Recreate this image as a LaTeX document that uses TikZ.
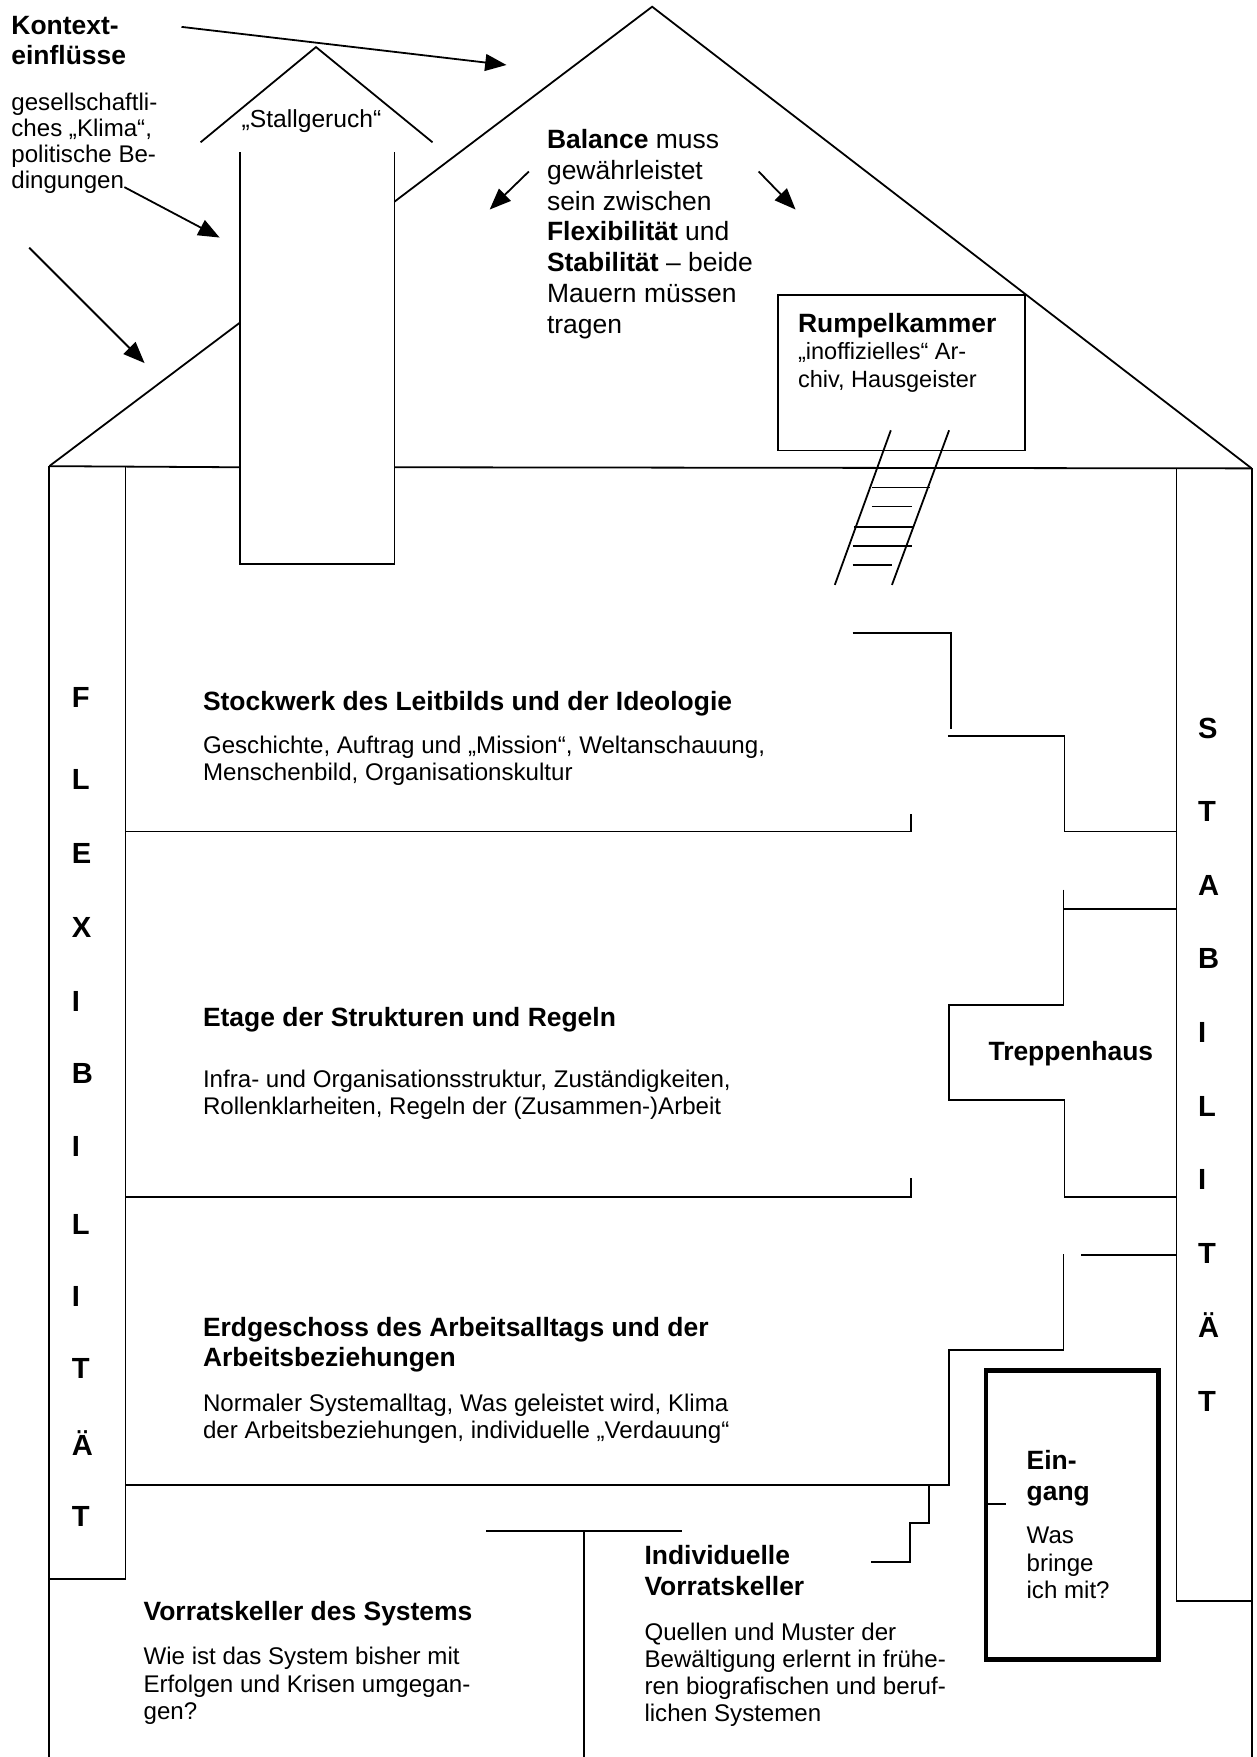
\documentclass[tikz,border=0pt]{standalone}
\usepackage{fontspec}
\setmainfont{Liberation Sans}
\usetikzlibrary{arrows.meta}
\begin{document}
\begin{tikzpicture}[x=1pt,y=-1pt,
  wall/.style={line width=1.6pt, line join=miter},
  boldbox/.style={line width=4pt},
  arr/.style={line width=1.6pt,-{Triangle[length=19pt,width=15pt]}},
  body/.style={inner sep=0pt, anchor=base west, align=left, font=\fontsize{21.5}{24}\selectfont},
  head/.style={inner sep=0pt, anchor=base west, align=left, font=\bfseries\fontsize{23.6}{27}\selectfont},
  pil/.style={inner sep=0pt, anchor=base west, font=\bfseries\fontsize{26}{26}\selectfont},
]
\useasboundingbox (0,0) rectangle (1121,1568);
% roof
\draw[wall] (44,416) -- (214,288);
\draw[wall] (352,180) -- (582,6) -- (1117,418);
% chimney
\draw[wall] (214,136) -- (214,503) -- (352,503) -- (352,136);
\draw[wall] (179,127) -- (282,42) -- (386,127);
% eave line
\draw[wall] (44,416) -- (214,417);
\draw[wall] (352,417) -- (1117,418);
% walls and pillars
\draw[wall] (44,416) -- (44,1568);
\draw[wall] (112,417) -- (112,1409) -- (44,1409);
\draw[wall] (1117,418) -- (1117,1568);
\draw[wall] (1050,418) -- (1050,1429) -- (1117,1429);
% floors
\draw[wall] (112,742) -- (813,742) -- (813,726);
\draw[wall] (112,1068) -- (813,1068) -- (813,1051);
\draw[wall] (112,1325) -- (847,1325) -- (847,1205) -- (949,1205) -- (949,1119);
\draw[wall] (965,1120) -- (1050,1120);
\draw[wall] (829,1325) -- (829,1359) -- (812,1359) -- (812,1394) -- (777,1394);
% stairs
\draw[wall] (761,565) -- (849,565) -- (849,651);
\draw[wall] (846,657) -- (950,657) -- (950,742) -- (1050,742);
\draw[wall] (949,794) -- (949,897) -- (847,897) -- (847,982) -- (950,982) -- (950,1068) -- (1050,1068);
\draw[wall] (949,811) -- (1050,811);
% cellar
\draw[wall] (434,1366) -- (609,1366);
\draw[wall] (521,1366) -- (521,1568);
% entrance
\draw[boldbox] (880,1223) rectangle (1034,1481);
\draw[wall] (880,1342) -- (898,1342);
% Rumpelkammer
\draw[wall] (694,263) rectangle (915,402);
% ladder
\draw[wall] (795,384) -- (745,522);
\draw[wall] (847,384) -- (796,522);
\draw[wall] (778,435) -- (830,435);
\draw[wall] (778,452) -- (814,452);
\draw[wall] (762,470) -- (815,470);
\draw[wall] (761,487) -- (814,487);
\draw[wall] (761,504) -- (796,504);
% arrows
\coordinate (a1s) at (162,24); \coordinate (a1e) at (452,58);
\coordinate (a2s) at (111,167); \coordinate (a2e) at (196,212);
\coordinate (a3s) at (26,221); \coordinate (a3e) at (129,324);
\coordinate (a4s) at (472,153); \coordinate (a4e) at (437,187);
\coordinate (a5s) at (677,153); \coordinate (a5e) at (710,187);
\draw[arr] (a1s) -- (a1e);
\draw[arr] (a2s) -- (a2e);
\draw[arr] (a3s) -- (a3e);
\draw[arr] (a4s) -- (a4e);
\draw[arr] (a5s) -- (a5e);
% texts (multi-line nodes: base = last line's baseline)
\node[head] (kon) at (10,57.5) {Kontext-\\einflüsse};
\node[body, font=\fontsize{21.5}{23.3}\selectfont] (kon2) at (10,168.6) {gesellschaftli-\\ches „Klima“,\\politische Be-\\dingungen};
\node[inner sep=0pt, anchor=base, font=\fontsize{22}{22}\selectfont] (stall) at (278,114) {„Stallgeruch“};
\node[body, font=\fontsize{23.6}{27.5}\selectfont] (bal) at (488,297.5) {\textbf{Balance} muss\\gewährleistet\\sein zwischen\\\textbf{Flexibilität} und\\\textbf{Stabilität} – beide\\Mauern müssen\\tragen};
\node[head] (rk) at (712,296.5) {Rumpelkammer};
\node[body, font=\fontsize{21}{25}\selectfont] (rk2) at (712,346) {„inoffizielles“ Ar-\\chiv, Hausgeister};
\node[head] (h1) at (181,634.5) {Stockwerk des Leitbilds und der Ideologie};
\node[body] (b1) at (181,696.7) {Geschichte, Auftrag und „Mission“, Weltanschauung,\\Menschenbild, Organisationskultur};
\node[head] (h2) at (181,916.5) {Etage der Strukturen und Regeln};
\node[body] (b2) at (181,994.7) {Infra- und Organisationsstruktur, Zuständigkeiten,\\Rollenklarheiten, Regeln der (Zusammen-)Arbeit};
\node[head] (h3) at (181,1219.5) {Erdgeschoss des Arbeitsalltags und der\\Arbeitsbeziehungen};
\node[body] (b3) at (181,1283.7) {Normaler Systemalltag, Was geleistet wird, Klima\\der Arbeitsbeziehungen, individuelle „Verdauung“};
\node[head] (tr) at (882,946.5) {Treppenhaus};
\node[head, font=\bfseries\fontsize{23.6}{28}\selectfont] (ein) at (916,1339.5) {Ein-\\gang};
\node[body, font=\fontsize{21.5}{24.5}\selectfont] (ein2) at (916,1426.7) {Was\\bringe\\ich mit?};
\node[head] (vk) at (128,1446.5) {Vorratskeller des Systems};
\node[body, font=\fontsize{21.5}{24.5}\selectfont] (vk2) at (128,1534.7) {Wie ist das System bisher mit\\Erfolgen und Krisen umgegan-\\gen?};
\node[head] (ik) at (575,1423.5) {Individuelle\\Vorratskeller};
\node[body, font=\fontsize{21.5}{24.3}\selectfont] (ik2) at (575,1536.6) {Quellen und Muster der\\Bewältigung erlernt in frühe-\\ren biografischen und beruf-\\lichen Systemen};
% pillar letters
\foreach \c/\yy [count=\i] in {F/631.3, L/704.3, E/770.3, X/836.3, I/902.3, B/967.3, I/1032.3, L/1101.3, I/1166.3, T/1230.3, Ä/1299.3, T/1362.3}
  \node[pil] (fl\i) at (64,\yy) {\c};
\foreach \c/\yy [count=\i] in {S/659.3, T/733.3, A/799.3, B/864.3, I/930.3, L/996.3, I/1061.3, T/1127.3, Ä/1193.3, T/1259.3}
  \node[pil] (st\i) at (1069,\yy) {\c};
\end{tikzpicture}
\end{document}
